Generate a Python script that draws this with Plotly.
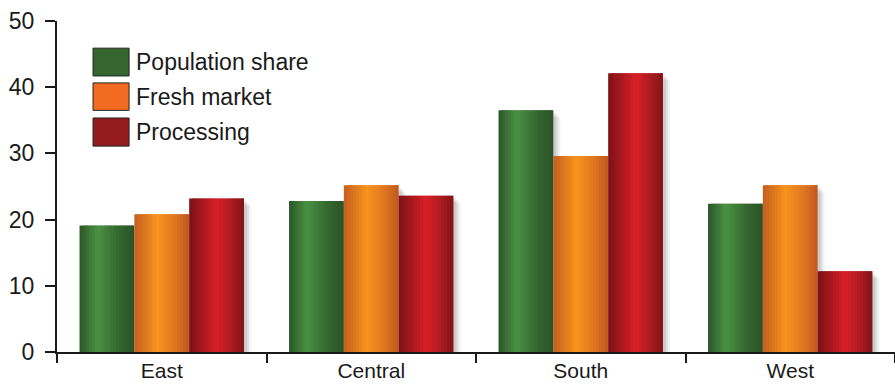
import plotly.graph_objects as go

regions = ["East", "Central", "South", "West"]
population_share = [19.1, 22.8, 36.5, 22.4]
fresh_market = [20.8, 25.2, 29.6, 25.2]
processing = [23.2, 23.6, 42.1, 12.2]

series_names = ["Population share", "Fresh market", "Processing"]
# horizontal gradient stops (position across bar, colour) to mimic the cylinder shading
gradients = [
    [(0.0, (44, 86, 41)), (0.33, (74, 145, 68)), (0.7, (52, 104, 48)), (1.0, (44, 82, 40))],
    [(0.0, (196, 94, 31)), (0.42, (248, 148, 30)), (0.75, (222, 118, 32)), (1.0, (192, 86, 32))],
    [(0.0, (122, 18, 22)), (0.5, (218, 31, 40)), (0.78, (170, 26, 32)), (1.0, (128, 20, 24))],
]
legend_colors = ["#36662f", "#f26b21", "#931b1e"]
y_ticks = [0, 10, 20, 30, 40, 50]

FONT = "Liberation Sans, Arial, Helvetica, sans-serif"
BARGAP = 0.215
N_STRIPES = 18


def interp(stops, t):
    for (p0, c0), (p1, c1) in zip(stops, stops[1:]):
        if p0 <= t <= p1:
            f = (t - p0) / (p1 - p0)
            return "rgb(%d,%d,%d)" % tuple(round(a + (b - a) * f) for a, b in zip(c0, c1))
    return "rgb(%d,%d,%d)" % stops[-1][1]


group_w = 1 - BARGAP
bar_w = group_w / 3
px_x = 1 / 209.5
px_y = 50 / 331

fig = go.Figure()
all_vals = [population_share, fresh_market, processing]

# soft drop shadows
for i, vals in enumerate(all_vals):
    start = -group_w / 2 + i * bar_w
    for k, (dx, a) in enumerate([(7, 0.05), (5, 0.07), (3, 0.09)]):
        fig.add_trace(go.Bar(
            x=regions, y=[v for v in vals], base=[-dx * px_y] * len(vals),
            width=bar_w, offset=start + dx * px_x,
            marker=dict(color="rgba(0,0,0,%.2f)" % a, line=dict(width=0)),
            showlegend=False, hoverinfo="skip",
        ))

# bars built from narrow stripes for the gradient
for i, (name, vals, stops) in enumerate(zip(series_names, all_vals, gradients)):
    start = -group_w / 2 + i * bar_w
    sw = bar_w / N_STRIPES
    for k in range(N_STRIPES):
        t = (k + 0.5) / N_STRIPES
        w = sw * (1.8 if k < N_STRIPES - 1 else 1.0)
        fig.add_trace(go.Bar(
            x=regions, y=vals, name=name,
            width=w, offset=start + k * sw,
            marker=dict(color=interp(stops, t), line=dict(width=0)),
            showlegend=False, hoverinfo="skip" if k else "x+y+name",
        ))

# custom legend (large swatches)
box_rows = [(0.834, 0.918), (0.730, 0.813), (0.622, 0.707)]
for (y0, y1), name, col in zip(box_rows, series_names, legend_colors):
    fig.add_shape(type="rect", xref="paper", yref="paper",
                  x0=0.043, x1=0.086, y0=y0, y1=y1,
                  fillcolor=col, line=dict(color="#222222", width=1))
    fig.add_annotation(xref="paper", yref="paper", x=0.092, y=(y0 + y1) / 2,
                       text=name, showarrow=False, xanchor="left", yanchor="middle",
                       font=dict(family=FONT, size=23, color="#1a1a1a"))

fig.update_layout(
    width=895, height=387,
    margin=dict(l=57, r=0, t=21, b=35),
    paper_bgcolor="white", plot_bgcolor="white",
    barmode="overlay",
    font=dict(family=FONT, size=23, color="#1a1a1a"),
)
fig.update_xaxes(
    range=[-0.5, 3.5], showline=True, linecolor="#1a1a1a", linewidth=2,
    ticks="outside", tickson="boundaries", ticklen=9, tickwidth=2, tickcolor="#1a1a1a",
    showgrid=False, zeroline=False, tickfont=dict(size=21), ticklabelstandoff=-1,
    automargin=False,
)
fig.update_yaxes(
    range=[0, 50], tickvals=y_ticks, showline=True, linecolor="#1a1a1a", linewidth=2,
    ticks="outside", ticklen=10, tickwidth=2, tickcolor="#1a1a1a",
    showgrid=False, zeroline=False, tickfont=dict(size=23), ticklabelstandoff=6,
    automargin=False,
)

fig.write_html("out.html")
